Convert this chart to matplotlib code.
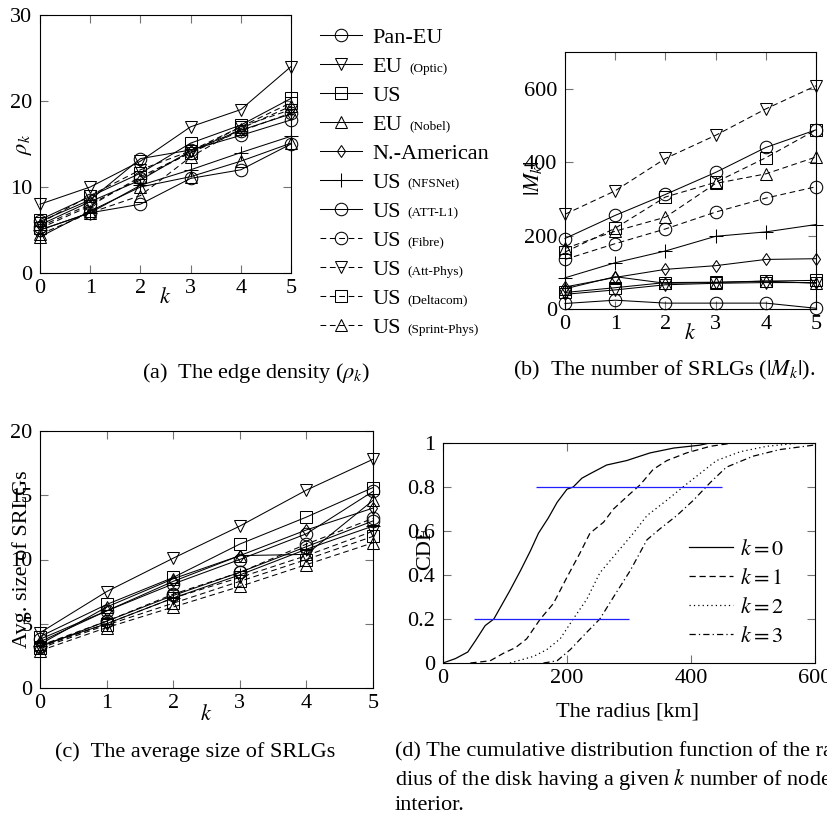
import matplotlib
matplotlib.use("Agg")
import matplotlib.pyplot as plt

plt.rcParams['font.family'] = ['Liberation Serif', 'DejaVu Serif']
plt.rcParams['mathtext.fontset'] = 'stix'

# ---- data -------------------------------------------------------------
k = [0, 1, 2, 3, 4, 5]

net_big = ["Pan-EU", "EU", "US", "EU", "N.-American", "US",
           "US", "US", "US", "US", "US"]
net_small = ["", "(Optic)", "", "(Nobel)", "", "(NFSNet)",
             "(ATT-L1)", "(Fibre)", "(Att-Phys)", "(Deltacom)", "(Sprint-Phys)"]
net_marker = ['o', 'v', 's', '^', 'd', '+', 'o', 'o', 'v', 's', '^']
net_dashed = [False] * 7 + [True] * 4

# edge density rho_k, one row per network
rho = [
    [5.0, 7.0, 8.0, 11.0, 12.0, 15.0],
    [8.0, 10.0, 13.0, 17.0, 19.0, 24.0],
    [6.2, 8.9, 11.6, 15.1, 17.2, 20.3],
    [4.2, 7.2, 10.0, 11.2, 13.0, 15.1],
    [5.6, 8.3, 10.8, 14.2, 16.6, 18.5],
    [5.0, 7.0, 10.2, 12.0, 14.0, 15.9],
    [6.0, 8.5, 13.3, 14.3, 16.0, 17.8],
    [5.4, 8.0, 11.0, 14.0, 16.5, 18.6],
    [5.8, 9.0, 12.0, 14.2, 17.0, 19.0],
    [5.2, 7.8, 11.2, 14.0, 17.0, 19.8],
    [4.5, 7.0, 9.0, 13.5, 16.8, 19.4],
]

# number of SRLGs |M_k|
n_srlg = [
    [15, 24, 16, 16, 16, 2],
    [40, 52, 66, 70, 72, 72],
    [45, 58, 72, 73, 76, 78],
    [55, 88, 70, 72, 76, 70],
    [60, 86, 108, 118, 135, 137],
    [85, 126, 158, 198, 210, 230],
    [192, 255, 312, 372, 440, 488],
    [135, 178, 218, 264, 302, 333],
    [258, 322, 410, 473, 545, 608],
    [155, 220, 305, 345, 412, 488],
    [165, 212, 250, 342, 368, 414],
]

# average size of SRLGs
avg_size = [
    [3.2, 5.2, 7.2, 9.0, 11.0, 13.0],
    [4.3, 7.5, 10.1, 12.6, 15.4, 17.8],
    [4.0, 6.5, 8.6, 11.2, 13.3, 15.6],
    [3.4, 6.3, 8.5, 10.3, 10.4, 14.6],
    [3.6, 6.0, 8.3, 10.3, 12.3, 14.0],
    [3.3, 5.0, 7.0, 8.8, 10.8, 12.6],
    [3.8, 6.0, 8.1, 10.0, 12.0, 15.3],
    [3.3, 5.2, 7.3, 9.0, 11.2, 13.2],
    [3.2, 5.0, 7.0, 8.6, 10.3, 12.2],
    [3.1, 4.9, 6.6, 8.3, 10.0, 11.8],
    [2.9, 4.7, 6.3, 7.9, 9.6, 11.3],
]

# CDF of the disk radius (km)
r_k0 = [0, 20, 40, 52, 68, 82, 92, 108, 125, 141, 154, 170, 184, 200, 210,
        224, 237, 264, 296, 334, 372, 414, 430, 600]
cdf_k0 = [0, 0.02, 0.05, 0.10, 0.17, 0.20, 0.25, 0.33, 0.42, 0.51, 0.59, 0.66,
          0.73, 0.79, 0.80, 0.84, 0.86, 0.90, 0.92, 0.955, 0.977, 0.99, 1.0, 1.0]
r_k1 = [44, 76, 98, 117, 135, 157, 178, 200, 221, 237, 259, 275, 302, 318,
        339, 361, 393, 431, 468, 600]
cdf_k1 = [0, 0.01, 0.045, 0.07, 0.11, 0.20, 0.27, 0.39, 0.50, 0.59, 0.64,
          0.70, 0.77, 0.81, 0.88, 0.92, 0.955, 0.985, 1.0, 1.0]
r_k2 = [108, 146, 167, 189, 210, 232, 253, 280, 307, 329, 361, 387, 414,
        441, 479, 522, 576, 600]
cdf_k2 = [0, 0.03, 0.06, 0.11, 0.20, 0.29, 0.41, 0.50, 0.59, 0.67, 0.74,
          0.80, 0.86, 0.92, 0.96, 0.985, 1.0, 1.0]
r_k3 = [162, 184, 205, 232, 253, 275, 302, 329, 350, 377, 404, 431, 457,
        500, 543, 597]
cdf_k3 = [0, 0.01, 0.06, 0.14, 0.20, 0.30, 0.42, 0.56, 0.61, 0.67, 0.74,
          0.82, 0.89, 0.94, 0.97, 0.99]

hline_level = [0.8, 0.2]
hline_from = [150, 50]
hline_to = [450, 300]

# ---- figure -----------------------------------------------------------
W, H = 828, 819
fig = plt.figure(figsize=(W / 100, H / 100), dpi=100)
FS = 16


def box(l, t, r, b):
    return [l / W, 1 - b / H, (r - l) / W, (b - t) / H]


def style(ax):
    ax.tick_params(direction='in', top=True, right=True, length=5.5,
                   width=0.8, color='0.45', labelsize=FS)
    ax.tick_params(axis='x', pad=4.5)
    ax.tick_params(axis='y', pad=5.5)
    for s in ax.spines.values():
        s.set_linewidth(0.8)


def draw_series(ax, rows):
    lines = []
    for vals, m, dsh in zip(rows, net_marker, net_dashed):
        ms = 6.5 if m == 'd' else (10 if m == '+' else 9)
        ln, = ax.plot(k, vals, color='k', lw=0.75,
                      ls=(0, (5.5, 3.5)) if dsh else '-',
                      marker=m, ms=ms, mfc='none', mec='k', mew=0.75,
                      clip_on=False)
        lines.append(ln)
    return lines


def set_labels(ax, xl, xlpos, yl, ylpos):
    ax.set_xlabel(xl, fontsize=FS)
    ax.xaxis.label.set_va('center')
    ax.xaxis.set_label_coords(*xlpos)
    ax.set_ylabel(yl, fontsize=FS)
    ax.yaxis.label.set_va('center')
    ax.yaxis.set_label_coords(*ylpos)


# (a) edge density
ax_a = fig.add_axes(box(40, 15, 291, 273))
lines_a = draw_series(ax_a, rho)
ax_a.set_xlim(0, 5)
ax_a.set_ylim(0, 30)
ax_a.set_xticks(k)
ax_a.set_yticks([0, 10, 20, 30])
style(ax_a)
set_labels(ax_a, '$k$', (0.5, -0.097), r'$\rho_k$', (-0.06, 0.5))

# (b) number of SRLGs
ax_b = fig.add_axes(box(565, 52, 816, 309))
draw_series(ax_b, n_srlg)
ax_b.set_xlim(0, 5)
ax_b.set_ylim(0, 700)
ax_b.set_xticks(k)
ax_b.set_yticks([0, 200, 400, 600])
style(ax_b)
set_labels(ax_b, '$k$', (0.5, -0.097), '$|M_k|$', (-0.127, 0.51))

# (c) average size of SRLGs
ax_c = fig.add_axes(box(40, 431, 373, 688))
draw_series(ax_c, avg_size)
ax_c.set_xlim(0, 5)
ax_c.set_ylim(0, 20)
ax_c.set_xticks(k)
ax_c.set_yticks([0, 5, 10, 15, 20])
style(ax_c)
set_labels(ax_c, '$k$', (0.5, -0.105), 'Avg. size of SRLGs', (-0.054, 0.5))

# (d) CDF of the radius
ax_d = fig.add_axes(box(443, 443, 815, 663))
ax_d.plot(r_k0, cdf_k0, color='k', lw=0.9, ls='-', label='$k=0$')
ax_d.plot(r_k1, cdf_k1, color='k', lw=0.9, ls=(0, (5, 3)), label='$k=1$')
ax_d.plot(r_k2, cdf_k2, color='k', lw=0.9, ls=(0, (1, 2.5)), label='$k=2$')
ax_d.plot(r_k3, cdf_k3, color='k', lw=0.9, ls=(0, (5, 2.5, 1, 2.5)), label='$k=3$')
ax_d.hlines(hline_level, hline_from, hline_to, colors='#1f1fff', lw=0.9)
ax_d.set_xlim(0, 600)
ax_d.set_ylim(0, 1)
ax_d.set_xticks([0, 200, 400, 600])
ax_d.set_yticks([0, 0.2, 0.4, 0.6, 0.8, 1.0])
ax_d.set_yticklabels(['0', '0.2', '0.4', '0.6', '0.8', '1'])
style(ax_d)
set_labels(ax_d, 'The radius [km]', (0.497, -0.223), 'CDF', (-0.048, 0.52))
ax_d.legend(loc='upper left', bbox_to_anchor=(689 / W, 1 - 539 / H),
            bbox_transform=fig.transFigure, frameon=False, fontsize=FS,
            handlelength=2.0, handletextpad=0.3, labelspacing=0.38,
            borderpad=0, borderaxespad=0)

# legend of the networks, shared by (a)-(c)
leg = fig.legend(lines_a, net_big, loc='upper left',
                 bbox_to_anchor=(320 / W, 1 - 27 / H), frameon=False,
                 fontsize=FS, handlelength=1.9, handletextpad=0.45,
                 labelspacing=0.38, borderpad=0, borderaxespad=0)

fig.canvas.draw()
inv = fig.transFigure.inverted()
for t, s in zip(leg.get_texts(), net_small):
    if not s:
        continue
    bb = t.get_window_extent()
    base = t.get_transform().transform(t.get_position())[1]
    fx, fy = inv.transform((bb.x1 + 7, base))
    fig.text(fx, fy, s, fontsize=9.5, va='baseline', ha='left')

# sub-captions
fig.text(256 / W, 1 - 373 / H, r'(a)  The edge density ($\rho_k$)',
         ha='center', va='center', fontsize=FS)
fig.text(664 / W, 1 - 370 / H, r'(b)  The number of SRLGs ($|M_k|$).',
         ha='center', va='center', fontsize=FS)
fig.text(195 / W, 1 - 752 / H, '(c)  The average size of SRLGs',
         ha='center', va='center', fontsize=FS)
cap_d = ['(d) The cumulative distribution function of the ra-',
         'dius of the disk having a given $k$ number of nodes in its',
         'interior.']
for line, y in zip(cap_d, [752, 780, 805]):
    fig.text(395 / W, 1 - y / H, line, ha='left', va='center', fontsize=FS)

fig.savefig('out.png', dpi=100)
